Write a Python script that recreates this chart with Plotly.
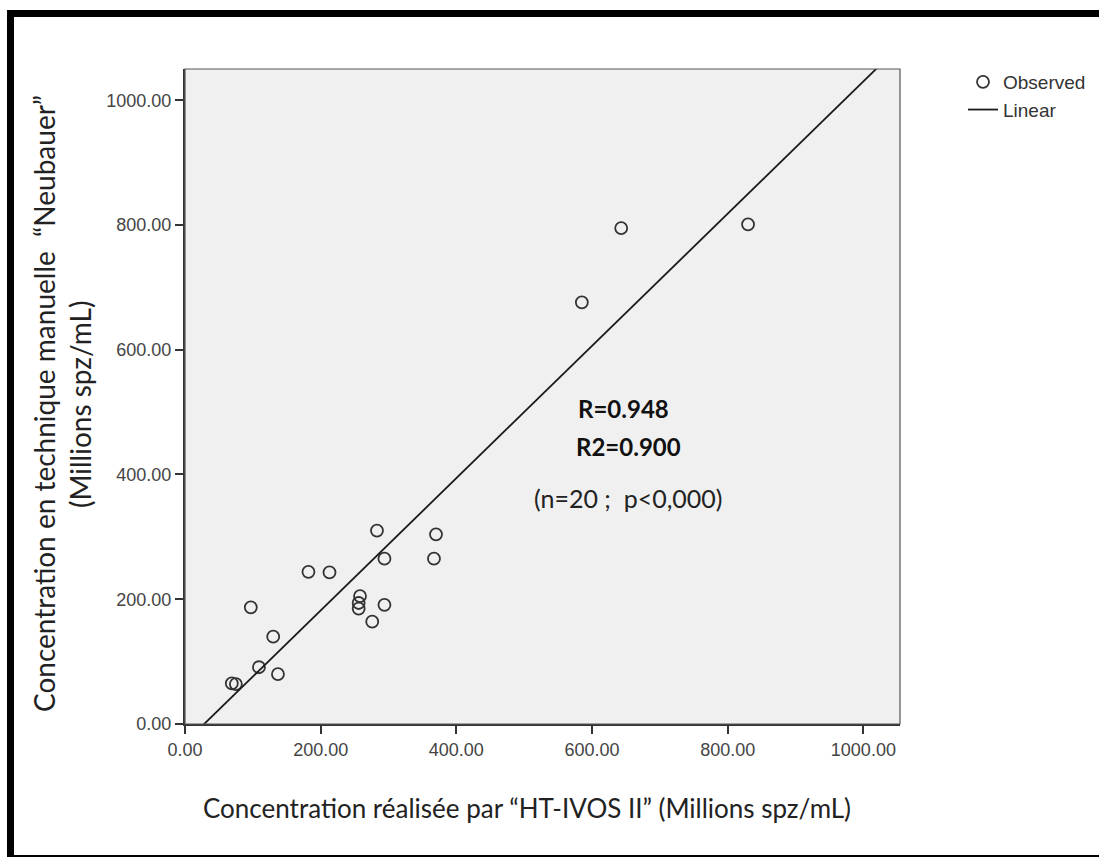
import numpy as np
import plotly.graph_objects as go

# ---- data ----
ht_ivos = [69, 75, 109, 137, 130, 97, 182, 213, 258, 256, 256, 276, 294, 283, 294, 370, 367, 585, 643, 830]
neubauer = [65, 64, 91, 80, 140, 187, 244, 243, 205, 194, 185, 164, 191, 310, 265, 304, 265, 676, 795, 801]
tick_vals = [0, 200, 400, 600, 800, 1000]
x_range = [0, 1054]
y_range = [0, 1050]
stats_lines = ["R=0.948", "R2=0.900", "(n=20 ;  p<0,000)"]

# linear fit
slope, intercept = np.polyfit(ht_ivos, neubauer, 1)
fit_x = np.array(x_range, dtype=float)
fit_y = slope * fit_x + intercept

W, H = 1099, 857
L, R, T, B = 185, 900, 69, 724  # plot area in pixels
pw, ph = R - L, B - T


def px(xp):
    return (xp - L) / pw


def py(yp):
    return (B - yp) / ph


dark = "#333333"
fig = go.Figure()
fig.add_trace(go.Scatter(
    x=ht_ivos, y=neubauer, mode="markers", name="Observed",
    marker=dict(symbol="circle-open", size=12, color=dark, line=dict(width=1.8, color=dark)),
    cliponaxis=False,
))
fig.add_trace(go.Scatter(
    x=fit_x, y=fit_y, mode="lines", name="Linear",
    line=dict(color="#1a1a1a", width=1.8),
))

axis_common = dict(
    tickmode="array", tickvals=tick_vals, tickformat=".2f",
    showgrid=False, zeroline=False,
    showline=True, linecolor="#333333", linewidth=2,
    ticks="outside", ticklen=8, tickwidth=2, tickcolor="#333333",
    tickfont=dict(family="Liberation Sans, Arial", size=18, color="#444444"),
)
fig.update_xaxes(range=x_range, **axis_common)
fig.update_yaxes(range=y_range, **axis_common)

title_font = dict(family="Lato, Open Sans", size=26, color="#222222")
ytitle_font = dict(family="Lato, Open Sans", size=28, color="#222222")
annotations = [
    dict(text="Concentration réalisée par “HT-IVOS II” (Millions spz/mL)",
         x=px(527), y=py(808), xref="paper", yref="paper", showarrow=False,
         xanchor="center", yanchor="middle", font=title_font),
    dict(text="Concentration en technique manuelle  “Neubauer”",
         x=px(44), y=py(404), xref="paper", yref="paper", showarrow=False, textangle=-90,
         xanchor="center", yanchor="middle", font=ytitle_font),
    dict(text="(Millions spz/mL)",
         x=px(80), y=py(405), xref="paper", yref="paper", showarrow=False, textangle=-90,
         xanchor="center", yanchor="middle", font=ytitle_font),
    dict(text="<b>" + stats_lines[0] + "</b>", x=px(623), y=py(408), xref="paper", yref="paper",
         showarrow=False, xanchor="center", yanchor="middle",
         font=dict(family="Lato, Open Sans", size=24, color="#111111")),
    dict(text="<b>" + stats_lines[1] + "</b>", x=px(628), y=py(447), xref="paper", yref="paper",
         showarrow=False, xanchor="center", yanchor="middle",
         font=dict(family="Lato, Open Sans", size=24, color="#111111")),
    dict(text=stats_lines[2], x=px(628), y=py(498), xref="paper", yref="paper",
         showarrow=False, xanchor="center", yanchor="middle",
         font=dict(family="Lato, Open Sans", size=25, color="#222222")),
]

shapes = [
    # plot frame (top/right)
    dict(type="rect", xref="paper", yref="paper", x0=0, x1=1, y0=0, y1=1,
         line=dict(color="#555555", width=1.2), layer="above"),
    # black picture frame: top, left, bottom
    dict(type="rect", xref="paper", yref="paper", x0=px(7), x1=px(1110), y0=py(17), y1=py(10),
         fillcolor="black", line=dict(width=0)),
    dict(type="rect", xref="paper", yref="paper", x0=px(7), x1=px(14), y0=py(870), y1=py(10),
         fillcolor="black", line=dict(width=0)),
    dict(type="rect", xref="paper", yref="paper", x0=px(7), x1=px(1110), y0=py(870), y1=py(855),
         fillcolor="black", line=dict(width=0)),
]

fig.update_layout(
    width=W, height=H,
    margin=dict(l=L, r=W - R, t=T, b=H - B, autoexpand=False),
    paper_bgcolor="white", plot_bgcolor="#f0f0f0",
    showlegend=True,
    legend=dict(x=px(963), y=py(63), xanchor="left", yanchor="top",
                font=dict(family="Liberation Sans, Arial", size=19, color="#333333"),
                itemwidth=30, bgcolor="rgba(0,0,0,0)", tracegroupgap=0),
    annotations=annotations, shapes=shapes,
)

fig.write_html("out.html")
